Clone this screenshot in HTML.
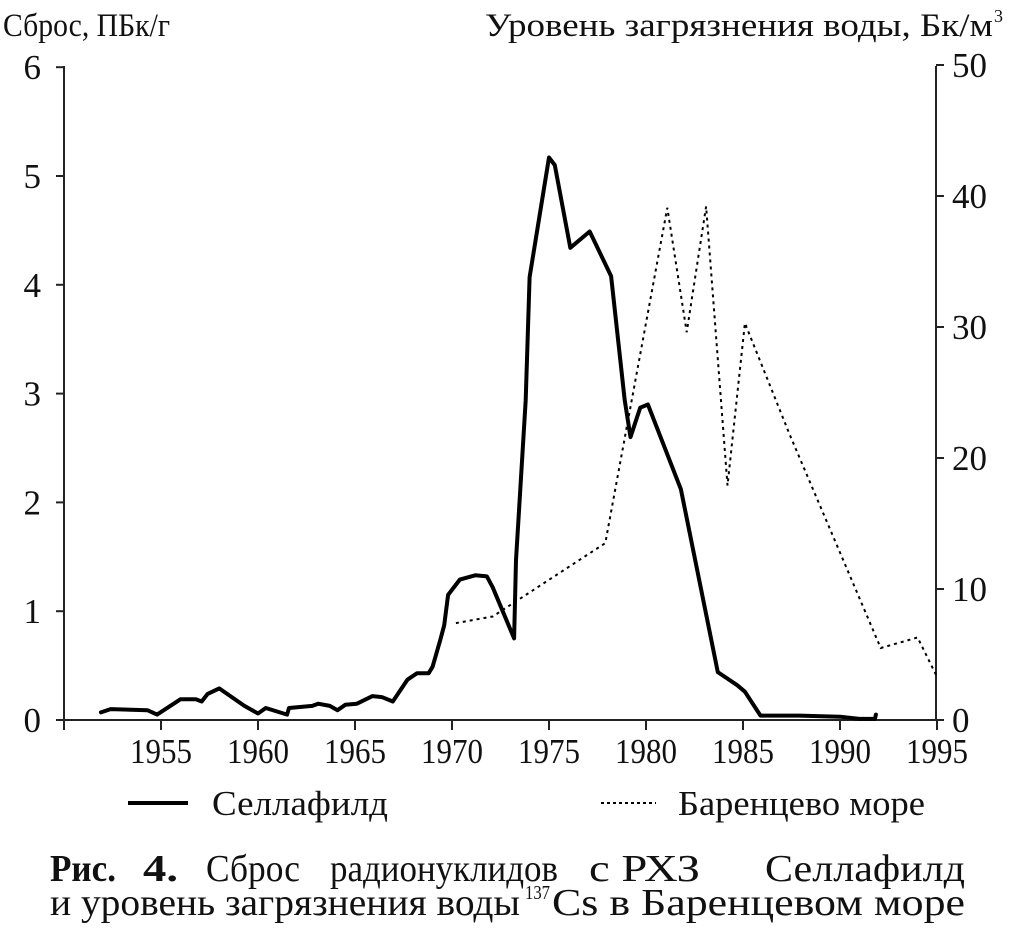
<!DOCTYPE html>
<html><head><meta charset="utf-8"><style>
html,body{margin:0;padding:0;background:#fff}
svg{display:block}
text{font-family:"Liberation Serif",serif;fill:#111}
</style></head><body>
<svg id="chart" width="1010" height="935" viewBox="0 0 1010 935" xmlns="http://www.w3.org/2000/svg">
<text x="3" y="36" font-size="33" textLength="167" lengthAdjust="spacingAndGlyphs">Сброс, ПБк/г</text>
<text x="485" y="36" font-size="33" textLength="508" lengthAdjust="spacingAndGlyphs">Уровень загрязнения воды, Бк/м</text>
<text x="994" y="22" font-size="18">3</text>
<g id="axes"></g>
<g id="series"></g>
<g>
<line x1="128" y1="803" x2="188" y2="803" stroke="#000" stroke-width="4"/>
<text x="212" y="815" font-size="35" textLength="176" lengthAdjust="spacingAndGlyphs">Селлафилд</text>
<line x1="601" y1="803" x2="656" y2="803" stroke="#000" stroke-width="2" stroke-dasharray="3,3"/>
<text x="678" y="815" font-size="35" textLength="247" lengthAdjust="spacingAndGlyphs">Баренцево море</text>
</g>
<g font-size="38">
<text x="50" y="881" font-weight="bold" textLength="66" lengthAdjust="spacingAndGlyphs">Рис.</text>
<text x="143" y="881" font-weight="bold" textLength="35" lengthAdjust="spacingAndGlyphs">4.</text>
<text x="206" y="881" textLength="94" lengthAdjust="spacingAndGlyphs">Сброс</text>
<text x="330" y="881" textLength="228" lengthAdjust="spacingAndGlyphs">радионуклидов</text>
<text x="589" y="881" textLength="111" lengthAdjust="spacingAndGlyphs">с РХЗ</text>
<text x="765" y="881" textLength="200" lengthAdjust="spacingAndGlyphs">Селлафилд</text>
<text x="50" y="915" textLength="470" lengthAdjust="spacingAndGlyphs">и уровень загрязнения воды</text>
<text x="525" y="899" font-size="20" textLength="25" lengthAdjust="spacingAndGlyphs">137</text>
<text x="552" y="915" textLength="413" lengthAdjust="spacingAndGlyphs">Cs в Баренцевом море</text>
</g>
</svg>
<script>
const xTicks=[1955,1960,1965,1970,1975,1980,1985,1990,1995];
const leftTicks=[0,1,2,3,4,5,6];
const rightTicks=[0,10,20,30,40,50];
const sellYears=[1951.9,1952.4,1954.3,1954.8,1956,1956.8,1957.1,1957.4,1958,1959.3,1960,1960.4,1961.5,1961.6,1962.8,1963.1,1963.7,1964.1,1964.5,1965.1,1965.9,1966.4,1966.95,1967.7,1968.2,1968.8,1969,1969.4,1969.6,1969.8,1970.4,1971.2,1971.8,1972.1,1973.2,1973.3,1973.8,1974,1975,1975.3,1976.1,1977.1,1978.2,1978.9,1979.2,1979.7,1980.1,1981.8,1983.7,1984.7,1985.1,1985.9,1987.9,1990,1991,1991.8,1991.85];
const sellValues=[0.07,0.1,0.09,0.05,0.19,0.19,0.17,0.24,0.29,0.13,0.06,0.11,0.05,0.11,0.13,0.15,0.13,0.09,0.14,0.15,0.22,0.21,0.17,0.37,0.43,0.43,0.49,0.74,0.87,1.15,1.29,1.33,1.32,1.22,0.75,1.47,2.94,4.07,5.17,5.1,4.34,4.49,4.08,2.94,2.6,2.87,2.9,2.12,0.44,0.32,0.26,0.04,0.04,0.03,0.01,0.01,0.05];
const barYears=[1970.2,1972.1,1977.9,1981.1,1982.1,1983.1,1984.2,1985.1,1987.4,1992.1,1994,1995];
const barValues=[7.4,7.9,13.5,39.1,29.6,39.2,17.9,30.3,21.8,5.5,6.3,3.3];

const NS="http://www.w3.org/2000/svg";
const X=y=>64+(y-1950)*19.4;
const YL=v=>720-v*108.8;
const YR=v=>720-v*13.1;
function mk(tag,attrs,parent){const e=document.createElementNS(NS,tag);for(const k in attrs)e.setAttribute(k,attrs[k]);parent.appendChild(e);return e;}
const axes=document.getElementById('axes');
let l=mk('line',{x1:64,y1:66,x2:64,y2:720,stroke:'#222','stroke-width':2},axes);


l=mk('line',{x1:936,y1:66,x2:936,y2:720,stroke:'#222','stroke-width':2},axes);


l=mk('line',{x1:56,y1:720,x2:944,y2:720,stroke:'#222','stroke-width':2},axes);


l=mk('line',{x1:64,y1:720,x2:64,y2:730,stroke:'#222','stroke-width':2},axes);


xTicks.forEach(t=>{
 const tk=mk('line',{x1:X(t),y1:720,x2:X(t),y2:730,stroke:'#222','stroke-width':2},axes);
 
 
 const tx=mk('text',{x:X(t)-31,y:763,'font-size':35,textLength:62,lengthAdjust:'spacingAndGlyphs'},axes);
 
 
 tx.textContent=t;
});
leftTicks.forEach(t=>{
 const tk=mk('line',{x1:56,y1:YL(t),x2:64,y2:YL(t),stroke:'#222','stroke-width':2},axes);
 
 
 const tx=mk('text',{x:41,y:YL(t)+12,'font-size':35,'text-anchor':'end'},axes);
 
 
 tx.textContent=t;
});
rightTicks.forEach(t=>{
 const tk=mk('line',{x1:936,y1:YR(t),x2:944,y2:YR(t),stroke:'#222','stroke-width':2},axes);
 
 
 const tx=mk('text',{x:952,y:YR(t)+12,'font-size':35},axes);
 
 
 tx.textContent=t;
});
const ser=document.getElementById('series');
const bp=barYears.map((y,i)=>X(y).toFixed(1)+','+YR(barValues[i]).toFixed(1)).join(' ');
const pb=mk('polyline',{points:bp,fill:'none',stroke:'#000','stroke-width':2,'stroke-dasharray':'3,4'},ser);


const sp=sellYears.map((y,i)=>X(y).toFixed(1)+','+YL(sellValues[i]).toFixed(1)).join(' ');
const ps=mk('polyline',{points:sp,fill:'none',stroke:'#000','stroke-width':4,'stroke-linejoin':'round','stroke-linecap':'round'},ser);


</script>
</body></html>
